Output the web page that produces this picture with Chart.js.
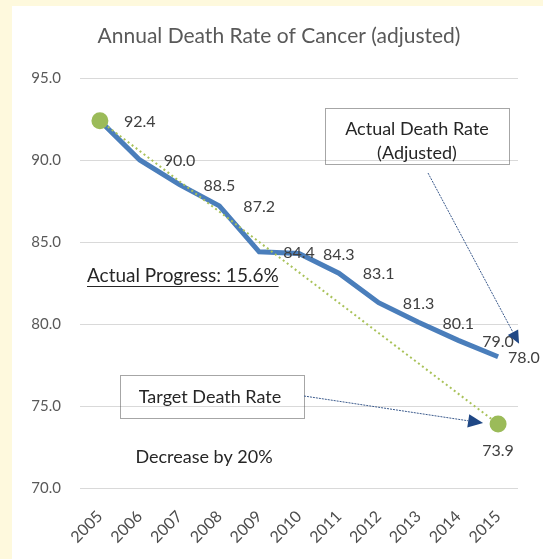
<!DOCTYPE html>
<html>
<head>
<meta charset="utf-8">
<script src="https://cdn.jsdelivr.net/npm/chart.js@4/dist/chart.umd.min.js"></script>
<style>
  html, body { margin: 0; padding: 0; background: #fef9dd; }
  #panel { position: absolute; left: 12px; top: 6px; width: 531px; height: 553px; background: #ffffff; }
</style>
</head>
<body>
<div id="panel"><canvas id="chart" width="531" height="553"></canvas></div>
<script>
// values
const years = ['2005', '2006', '2007', '2008', '2009', '2010', '2011', '2012', '2013', '2014', '2015'];
const actualRate = [92.4, 90.0, 88.5, 87.2, 84.4, 84.3, 83.1, 81.3, 80.1, 79.0, 78.0];
const targetRate = [92.4, null, null, null, null, null, null, null, null, null, 73.9];
const yTicks = [70, 75, 80, 85, 90, 95];

const FONT = 'Lato, "Open Sans", sans-serif';

function arrow(ctx, x1, y1, x2, y2, head) {
  const a = Math.atan2(y2 - y1, x2 - x1);
  ctx.save();
  ctx.strokeStyle = '#3b5a8c';
  ctx.lineWidth = 1;
  ctx.setLineDash([2, 1]);
  ctx.beginPath();
  ctx.moveTo(x1, y1);
  ctx.lineTo(x2 - Math.cos(a) * head, y2 - Math.sin(a) * head);
  ctx.stroke();
  ctx.setLineDash([]);
  ctx.fillStyle = '#1f4785';
  ctx.beginPath();
  ctx.moveTo(x2, y2);
  ctx.lineTo(x2 - Math.cos(a) * head + Math.sin(a) * head * 0.45, y2 - Math.sin(a) * head - Math.cos(a) * head * 0.45);
  ctx.lineTo(x2 - Math.cos(a) * head - Math.sin(a) * head * 0.45, y2 - Math.sin(a) * head + Math.cos(a) * head * 0.45);
  ctx.closePath();
  ctx.fill();
  ctx.restore();
}

function dottedBox(ctx, x, y, w, h) {
  ctx.save();
  ctx.strokeStyle = '#4d4d4d';
  ctx.lineWidth = 1;
  ctx.setLineDash([1, 1]);
  ctx.strokeRect(x + 0.5, y + 0.5, w, h);
  ctx.restore();
}

// data labels + free text of the original slide
const annotations = {
  id: 'annotations',
  afterDatasetsDraw(chart) {
    const ctx = chart.ctx;
    const actualMeta = chart.getDatasetMeta(1);
    const targetMeta = chart.getDatasetMeta(0);

    ctx.save();
    ctx.font = '16px ' + FONT;
    ctx.fillStyle = '#404040';
    ctx.textBaseline = 'middle';
    ctx.textAlign = 'left';
    actualMeta.data.forEach((pt, i) => {
      const dx = i === actualRate.length - 1 ? 10 : 24;
      ctx.fillText(actualRate[i].toFixed(1), pt.x + dx, pt.y + 1);
    });
    const last = targetMeta.data[targetRate.length - 1];
    ctx.textAlign = 'center';
    ctx.fillText(targetRate[targetRate.length - 1].toFixed(1), last.x, last.y + 27);
    ctx.restore();
  },
  afterDraw(chart) {
    const ctx = chart.ctx;
    const actualPts = chart.getDatasetMeta(1).data;
    const targetPts = chart.getDatasetMeta(0).data;
    const endActual = actualPts[actualPts.length - 1];
    const endTarget = targetPts[targetPts.length - 1];

    ctx.save();
    // title
    ctx.font = '21px ' + FONT;
    ctx.fillStyle = '#595959';
    ctx.textAlign = 'center';
    ctx.textBaseline = 'middle';
    ctx.fillText('Annual Death Rate of Cancer (adjusted)', 267, 30);

    // "Actual Death Rate" callout
    dottedBox(ctx, 313, 102, 184, 56);
    ctx.font = '18px ' + FONT;
    ctx.fillStyle = '#262626';
    ctx.fillText('Actual Death Rate', 405, 123);
    ctx.fillText('(Adjusted)', 405, 147);
    arrow(ctx, 416, 167, endActual.x + 21, endActual.y - 13, 13);

    // "Target Death Rate" callout
    dottedBox(ctx, 108, 369, 184, 43);
    ctx.fillStyle = '#262626';
    ctx.fillText('Target Death Rate', 198, 391);
    arrow(ctx, 292, 390, endTarget.x - 15, endTarget.y - 1, 15);

    ctx.fillText('Decrease by 20%', 192, 451);

    // underlined progress note
    ctx.textAlign = 'left';
    ctx.font = '19px ' + FONT;
    const note = 'Actual Progress: 15.6%';
    ctx.fillText(note, 75, 270);
    const w = ctx.measureText(note).width;
    ctx.fillRect(75, 280, w, 1);
    ctx.restore();
  }
};

new Chart(document.getElementById('chart'), {
  type: 'line',
  data: {
    labels: years,
    datasets: [
      {
        label: 'Target',
        data: targetRate,
        spanGaps: true,
        borderColor: '#a9c25a',
        borderWidth: 2,
        borderDash: [2, 3],
        pointRadius: 7.5,
        pointBackgroundColor: '#9bbb59',
        pointBorderColor: '#9bbb59',
        tension: 0
      },
      {
        label: 'Actual',
        data: actualRate,
        borderColor: '#4a7ebb',
        borderWidth: 5,
        pointRadius: 0,
        tension: 0
      }
    ]
  },
  options: {
    responsive: false,
    animation: false,
    layout: { padding: { top: 72, right: 25, left: 0, bottom: 0 } },
    plugins: {
      legend: { display: false },
      title: { display: false },
      tooltip: { enabled: false }
    },
    scales: {
      x: {
        type: 'category',
        offset: true,
        grid: { display: false, drawTicks: false },
        border: { display: false },
        ticks: {
          color: '#4d4d4d',
          font: { family: FONT, size: 16 },
          minRotation: 45,
          maxRotation: 45,
          padding: 19
        },
        afterFit(scale) { scale.height = 71; }
      },
      y: {
        min: yTicks[0],
        max: yTicks[yTicks.length - 1],
        grid: { color: '#d9d9d9', drawTicks: false },
        border: { display: false },
        ticks: {
          stepSize: 5,
          color: '#595959',
          font: { family: FONT, size: 15 },
          padding: 19,
          callback: v => v.toFixed(1)
        },
        afterFit(scale) { scale.width = 68; }
      }
    }
  },
  plugins: [annotations]
});
</script>
</body>
</html>
